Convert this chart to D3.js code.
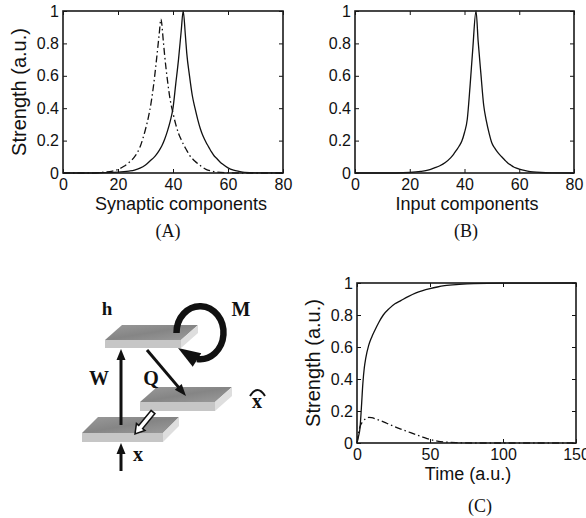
<!DOCTYPE html>
<html>
<head>
<meta charset="utf-8">
<script src="https://cdn.jsdelivr.net/npm/d3@7"></script>
<style>
  body { margin: 0; background: #fff; }
  svg { display: block; }
  .tick text { font-family: "Liberation Sans", Arial, sans-serif; font-size: 16px; fill: #111; }
  .axlab { font-family: "Liberation Sans", Arial, sans-serif; fill: #111; }
  .cap { font-family: "Liberation Serif", "Times New Roman", serif; font-size: 18px; fill: #111; }
  .sym { font-family: "Liberation Serif", "Times New Roman", serif; font-weight: bold; fill: #111; }
</style>
</head>
<body>
<svg id="fig" width="586" height="518"></svg>
<script>
// ---- values ----
const compTicks = [0, 20, 40, 60, 80];
const timeTicks = [0, 50, 100, 150];
const strengthTicks = [0, 0.2, 0.4, 0.6, 0.8, 1];

// (A) synaptic components: solid and dash-dot profiles
const synSolidX = [0, 10, 15, 20, 24, 26, 28, 30, 32, 33, 34, 35, 36, 37, 38, 39, 40, 41, 42, 43, 43.7, 44.5, 45, 46, 47, 48, 49, 50, 51, 52, 53, 54, 55, 56, 57, 58, 60, 62, 64, 66, 70, 80];
const synSolidY = [0, 0, 0.002, 0.005, 0.012, 0.018, 0.03, 0.05, 0.08, 0.095, 0.115, 0.14, 0.17, 0.21, 0.26, 0.32, 0.40, 0.55, 0.70, 0.88, 1.0, 0.85, 0.74, 0.60, 0.48, 0.40, 0.33, 0.27, 0.225, 0.19, 0.16, 0.13, 0.105, 0.088, 0.07, 0.055, 0.032, 0.018, 0.01, 0.004, 0.001, 0];
const synDashX = [0, 10, 15, 18, 20, 22, 24, 26, 27, 28, 29, 30, 31, 32, 33, 34, 35, 35.6, 36.5, 37, 38, 39, 40, 41, 42, 43, 44, 45, 46, 47, 48, 50, 52, 54, 56, 60, 65, 80];
const synDashY = [0, 0, 0.005, 0.012, 0.022, 0.04, 0.065, 0.1, 0.125, 0.16, 0.21, 0.27, 0.34, 0.43, 0.55, 0.70, 0.86, 0.95, 0.81, 0.72, 0.57, 0.45, 0.37, 0.30, 0.245, 0.205, 0.17, 0.14, 0.11, 0.09, 0.072, 0.045, 0.022, 0.012, 0.006, 0.002, 0, 0];

// (B) input components
const inputX = [0, 15, 20, 24, 27, 29, 31, 33, 35, 36, 37, 38, 39, 40, 41, 42, 43, 44.2, 45, 46, 47, 48, 49, 50, 51, 52, 53, 54, 55, 56, 57, 58, 59, 61, 63, 65, 68, 72, 80];
const inputY = [0, 0, 0.003, 0.01, 0.02, 0.032, 0.045, 0.065, 0.095, 0.115, 0.14, 0.165, 0.196, 0.25, 0.33, 0.53, 0.76, 1.0, 0.81, 0.61, 0.42, 0.32, 0.245, 0.185, 0.155, 0.13, 0.11, 0.093, 0.075, 0.059, 0.048, 0.037, 0.03, 0.019, 0.012, 0.007, 0.003, 0.001, 0];

// (C) time course
const timeSolidT = [0, 1, 2, 3, 4, 5, 6, 8, 10, 12, 15, 18, 22, 26, 30, 35, 40, 45, 50, 55, 60, 70, 80, 100, 150];
const timeSolidY = [0, 0.04, 0.09, 0.22, 0.37, 0.47, 0.53, 0.61, 0.66, 0.70, 0.755, 0.80, 0.84, 0.87, 0.89, 0.915, 0.937, 0.953, 0.965, 0.975, 0.983, 0.991, 0.996, 0.999, 1];
const timeDashT = [0, 1, 2, 4, 6, 8, 10, 13, 16, 20, 25, 30, 35, 40, 45, 50, 55, 60, 70, 80, 150];
const timeDashY = [0, 0.06, 0.10, 0.135, 0.152, 0.16, 0.158, 0.15, 0.14, 0.125, 0.105, 0.087, 0.07, 0.053, 0.037, 0.022, 0.012, 0.006, 0.002, 0, 0];

const DASHDOT = '7,3,1.5,3';
const svg = d3.select('#fig');

function panel(o) {
    const x = d3.scaleLinear().domain(o.xDomain).range([o.left, o.right]);
    const y = d3.scaleLinear().domain([0, 1]).range([o.bottom, o.top]);
    const g = svg.append('g').style('color', '#111');

    const noDomain = sel => sel.select('.domain').remove();
    g.append('g').attr('transform', `translate(0,${o.bottom})`)
        .call(d3.axisBottom(x).tickValues(o.xTicks).tickFormat(d3.format('d')).tickSizeInner(-4).tickSizeOuter(0).tickPadding(6))
        .call(noDomain);
    g.append('g').attr('transform', `translate(0,${o.top})`)
        .call(d3.axisTop(x).tickValues(o.xTicks).tickFormat('').tickSizeInner(-4).tickSizeOuter(0))
        .call(noDomain);
    g.append('g').attr('transform', `translate(${o.left},0)`)
        .call(d3.axisLeft(y).tickValues(strengthTicks).tickFormat(d3.format('~g')).tickSizeInner(-4).tickSizeOuter(0).tickPadding(4))
        .call(noDomain);
    g.append('g').attr('transform', `translate(${o.right},0)`)
        .call(d3.axisRight(y).tickValues(strengthTicks).tickFormat('').tickSizeInner(-4).tickSizeOuter(0))
        .call(noDomain);

    const line = d3.line().x(d => x(d[0])).y(d => y(d[1])).curve(d3.curveMonotoneX);
    o.series.forEach(s => {
        g.append('path')
            .datum(d3.zip(s.x, s.y))
            .attr('d', line)
            .attr('fill', 'none')
            .attr('stroke', '#111')
            .attr('stroke-width', 1.3)
            .attr('stroke-dasharray', s.dash || null);
    });

    g.append('rect')
        .attr('x', o.left).attr('y', o.top)
        .attr('width', o.right - o.left).attr('height', o.bottom - o.top)
        .attr('fill', 'none').attr('stroke', '#1a1a1a').attr('stroke-width', 1.6);

    g.append('text').attr('class', 'axlab')
        .attr('x', o.xLabelX).attr('y', o.bottom + 37)
        .attr('text-anchor', 'middle').style('font-size', '18px')
        .text(o.xLabel);

    if (o.yLabel) {
        g.append('text').attr('class', 'axlab')
            .attr('transform', `translate(${o.yLabelX},${(o.top + o.bottom) / 2}) rotate(-90)`)
            .attr('text-anchor', 'middle').style('font-size', '20px')
            .text(o.yLabel);
    }

    g.append('text').attr('class', 'cap')
        .attr('x', o.capX).attr('y', o.capY)
        .attr('text-anchor', 'middle')
        .text(o.cap);
}

panel({
    left: 63, right: 283, top: 11, bottom: 173,
    xDomain: [0, 80], xTicks: compTicks,
    series: [
        { x: synDashX, y: synDashY, dash: DASHDOT },
        { x: synSolidX, y: synSolidY }
    ],
    xLabel: 'Synaptic components', xLabelX: 181,
    yLabel: 'Strength (a.u.)', yLabelX: 26,
    cap: '(A)', capX: 168, capY: 237
});

panel({
    left: 355, right: 574, top: 11, bottom: 173,
    xDomain: [0, 80], xTicks: compTicks,
    series: [{ x: inputX, y: inputY }],
    xLabel: 'Input components', xLabelX: 467,
    cap: '(B)', capX: 466, capY: 237
});

panel({
    left: 357, right: 576, top: 283, bottom: 443,
    xDomain: [0, 150], xTicks: timeTicks,
    series: [
        { x: timeDashT, y: timeDashY, dash: DASHDOT },
        { x: timeSolidT, y: timeSolidY }
    ],
    xLabel: 'Time (a.u.)', xLabelX: 468,
    yLabel: 'Strength (a.u.)', yLabelX: 320,
    cap: '(C)', capX: 480, capY: 512
});

// ---- network diagram ----
const dg = svg.append('g');
const defs = svg.append('defs');
const grad = defs.append('linearGradient').attr('id', 'plateTop').attr('x1', 0).attr('y1', 0).attr('x2', 1).attr('y2', 1);
grad.append('stop').attr('offset', 0).attr('stop-color', '#9a9a9a');
grad.append('stop').attr('offset', 0.5).attr('stop-color', '#858585');
grad.append('stop').attr('offset', 1).attr('stop-color', '#9c9c9c');

function plate(x0, y0, w, dx, dy, th) {
    dg.append('path')
        .attr('d', `M${x0 + dx},${y0}L${x0 + dx + w},${y0}L${x0 + w},${y0 + dy}L${x0},${y0 + dy}Z`)
        .attr('fill', 'url(#plateTop)');
    dg.append('path')
        .attr('d', `M${x0},${y0 + dy}h${w}v${th}h${-w}Z`)
        .attr('fill', '#c6c6c6');
    dg.append('path')
        .attr('d', `M${x0 + w},${y0 + dy}L${x0 + w + dx},${y0}v${th}L${x0 + w},${y0 + dy + th}Z`)
        .attr('fill', '#dedede');
}

function arrow(x1, y1, x2, y2, headLen, headW, sw) {
    const len = Math.hypot(x2 - x1, y2 - y1);
    const ux = (x2 - x1) / len, uy = (y2 - y1) / len;
    const bx = x2 - ux * headLen, by = y2 - uy * headLen;
    dg.append('line')
        .attr('x1', x1).attr('y1', y1).attr('x2', bx + ux).attr('y2', by + uy)
        .attr('stroke', '#111').attr('stroke-width', sw);
    dg.append('path')
        .attr('d', `M${x2},${y2}L${bx - uy * headW / 2},${by + ux * headW / 2}L${bx + uy * headW / 2},${by - ux * headW / 2}Z`)
        .attr('fill', '#111');
}

function hollowArrow(x1, y1, x2, y2, headLen, headW, shaftW) {
    const len = Math.hypot(x2 - x1, y2 - y1);
    const ux = (x2 - x1) / len, uy = (y2 - y1) / len;
    const px = -uy, py = ux;
    const bx = x2 - ux * headLen, by = y2 - uy * headLen;
    const pts = [
        [x1 + px * shaftW / 2, y1 + py * shaftW / 2],
        [bx + px * shaftW / 2, by + py * shaftW / 2],
        [bx + px * headW / 2, by + py * headW / 2],
        [x2, y2],
        [bx - px * headW / 2, by - py * headW / 2],
        [bx - px * shaftW / 2, by - py * shaftW / 2],
        [x1 - px * shaftW / 2, y1 - py * shaftW / 2]
    ];
    dg.append('path')
        .attr('d', 'M' + pts.map(p => p.join(',')).join('L') + 'Z')
        .attr('fill', '#fff').attr('stroke', '#111').attr('stroke-width', 1.5)
        .attr('stroke-linejoin', 'miter');
}

plate(82, 417, 81, 16, 16, 9);   // x
plate(140, 387, 75, 17, 15, 9);  // x-hat
plate(105, 325, 76, 17, 15, 8);  // h

arrow(121, 425, 121, 349, 11, 9, 3);      // W
arrow(121, 471, 121, 443, 11, 9, 3);      // input x
arrow(147, 350, 186, 396, 12, 9, 3);      // Q
hollowArrow(153, 412, 135, 434, 9, 11, 5);

// M recurrent loop
dg.append('path')
    .attr('d', 'M176.5,333A23.5,26.5 0 1 1 197,359')
    .attr('fill', 'none').attr('stroke', '#111').attr('stroke-width', 6.5);
(function () {
    const tip = [178, 348], base = [197, 360];
    const len = Math.hypot(tip[0] - base[0], tip[1] - base[1]);
    const px = -(tip[1] - base[1]) / len, py = (tip[0] - base[0]) / len;
    const hw = 8;
    dg.append('path')
        .attr('d', `M${tip}L${base[0] + px * hw},${base[1] + py * hw}L${base[0] - px * hw},${base[1] - py * hw}Z`)
        .attr('fill', '#111');
})();

const sym = (t, x, y, size) => dg.append('text').attr('class', 'sym')
    .attr('x', x).attr('y', y).attr('text-anchor', 'middle')
    .style('font-size', size + 'px').text(t);
sym('h', 107, 315, 19);
sym('M', 241, 316, 20);
sym('W', 99, 385, 20);
sym('Q', 151, 385, 20);
sym('x', 138, 461, 20);
sym('x', 257, 408, 20);
dg.append('path')
    .attr('d', 'M250,396Q257.5,384 265,396')
    .attr('fill', 'none').attr('stroke', '#111').attr('stroke-width', 2);
</script>
</body>
</html>
